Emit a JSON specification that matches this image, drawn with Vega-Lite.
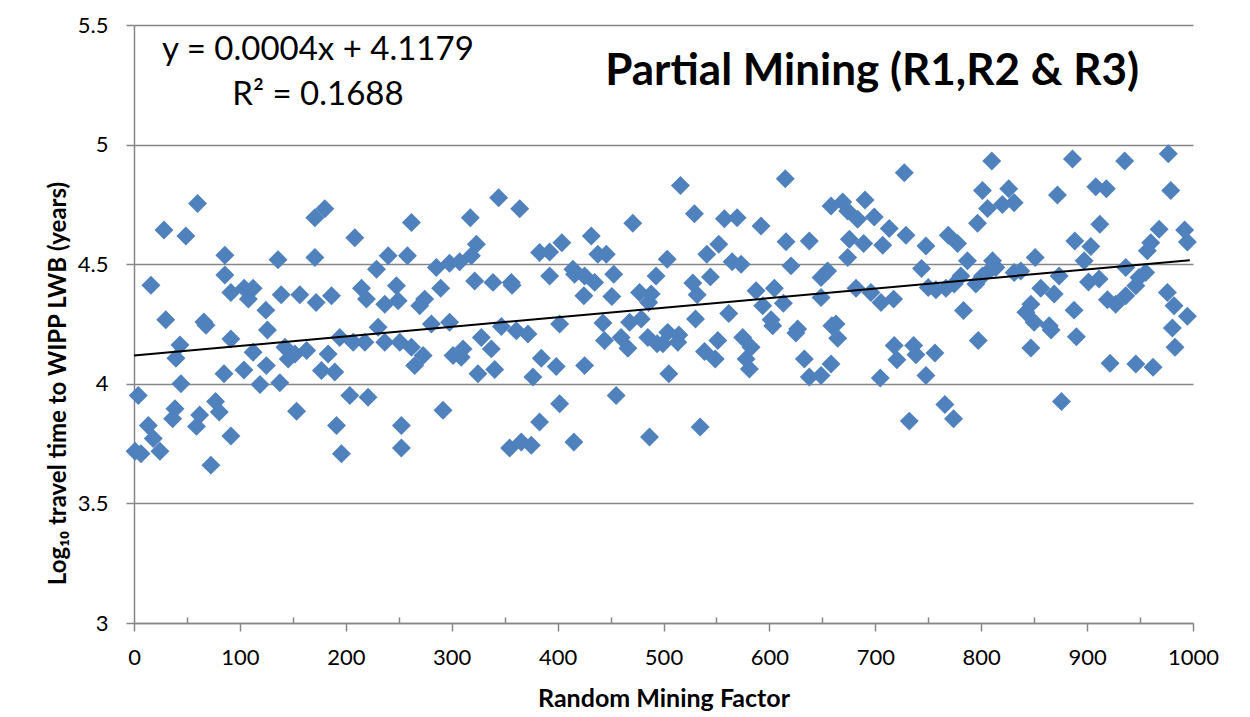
{
  "$schema": "https://vega.github.io/schema/vega-lite/v6.json",
  "width": 1059,
  "height": 598,
  "autosize": {"type": "none"},
  "padding": {"left": 134, "top": 25, "right": 57, "bottom": 94},
  "background": "white",
  "config": {"font": "Lato", "view": {"stroke": null}},
  "data": {"values": [
    {"factor":60,"log_time":4.754},{"factor":28.3,"log_time":4.643},{"factor":49,"log_time":4.618},{"factor":85.8,"log_time":4.537},{"factor":136,"log_time":4.519},{"factor":16,"log_time":4.412},{"factor":85.8,"log_time":4.455},{"factor":91.5,"log_time":4.382},{"factor":104,"log_time":4.399},{"factor":112.5,"log_time":4.399},{"factor":108,"log_time":4.354},{"factor":139,"log_time":4.372},{"factor":156.6,"log_time":4.372},{"factor":30,"log_time":4.268},{"factor":66,"log_time":4.258},{"factor":68,"log_time":4.245},{"factor":124.5,"log_time":4.308},{"factor":126,"log_time":4.225},{"factor":43.4,"log_time":4.162},{"factor":39.6,"log_time":4.107},{"factor":91.5,"log_time":4.187},{"factor":112.5,"log_time":4.132},{"factor":142.5,"log_time":4.153},{"factor":145.6,"log_time":4.104},{"factor":152,"log_time":4.125},{"factor":163,"log_time":4.139},{"factor":85,"log_time":4.042},{"factor":103.8,"log_time":4.058},{"factor":125,"log_time":4.076},{"factor":119,"log_time":3.997},{"factor":137.7,"log_time":4.004},{"factor":44.3,"log_time":4.0},{"factor":4,"log_time":3.951},{"factor":38.7,"log_time":3.896},{"factor":36.5,"log_time":3.854},{"factor":77,"log_time":3.926},{"factor":80.5,"log_time":3.882},{"factor":62,"log_time":3.87},{"factor":59,"log_time":3.822},{"factor":153.5,"log_time":3.885},{"factor":13.5,"log_time":3.826},{"factor":18.2,"log_time":3.771},{"factor":1,"log_time":3.718},{"factor":6.6,"log_time":3.708},{"factor":24.5,"log_time":3.718},{"factor":91.5,"log_time":3.782},{"factor":72.6,"log_time":3.66},
    {"factor":170.8,"log_time":4.694},{"factor":180.2,"log_time":4.732},{"factor":208.5,"log_time":4.611},{"factor":262,"log_time":4.674},{"factor":317.6,"log_time":4.694},{"factor":170.8,"log_time":4.528},{"factor":240,"log_time":4.535},{"factor":258.2,"log_time":4.535},{"factor":229,"log_time":4.479},{"factor":285.5,"log_time":4.486},{"factor":298,"log_time":4.504},{"factor":307.5,"log_time":4.51},{"factor":318.6,"log_time":4.535},{"factor":323.3,"log_time":4.583},{"factor":321.7,"log_time":4.43},{"factor":172,"log_time":4.34},{"factor":186.5,"log_time":4.368},{"factor":214.8,"log_time":4.399},{"factor":219.5,"log_time":4.354},{"factor":236.8,"log_time":4.333},{"factor":247.8,"log_time":4.41},{"factor":249.4,"log_time":4.347},{"factor":269.8,"log_time":4.326},{"factor":274.5,"log_time":4.354},{"factor":289.6,"log_time":4.399},{"factor":280.8,"log_time":4.25},{"factor":298,"log_time":4.257},{"factor":328,"log_time":4.194},{"factor":230.5,"log_time":4.236},{"factor":194.3,"log_time":4.194},{"factor":207,"log_time":4.174},{"factor":218,"log_time":4.174},{"factor":236.8,"log_time":4.174},{"factor":251,"log_time":4.174},{"factor":262,"log_time":4.153},{"factor":273,"log_time":4.118},{"factor":265,"log_time":4.076},{"factor":183.3,"log_time":4.125},{"factor":177,"log_time":4.056},{"factor":189.6,"log_time":4.049},{"factor":301.3,"log_time":4.118},{"factor":310.7,"log_time":4.146},{"factor":309,"log_time":4.111},{"factor":324.8,"log_time":4.042},{"factor":203.8,"log_time":3.951},{"factor":221,"log_time":3.944},{"factor":291.8,"log_time":3.889},{"factor":191.2,"log_time":3.826},{"factor":252.5,"log_time":3.826},{"factor":195.9,"log_time":3.708},{"factor":252.5,"log_time":3.732},
    {"factor":344.3,"log_time":4.778},{"factor":364.2,"log_time":4.732},{"factor":471,"log_time":4.671},{"factor":383,"log_time":4.549},{"factor":392.5,"log_time":4.551},{"factor":404,"log_time":4.59},{"factor":431.8,"log_time":4.618},{"factor":438,"log_time":4.542},{"factor":446,"log_time":4.542},{"factor":339,"log_time":4.424},{"factor":356.3,"log_time":4.424},{"factor":357,"log_time":4.412},{"factor":392.5,"log_time":4.451},{"factor":414.5,"log_time":4.479},{"factor":416,"log_time":4.458},{"factor":425.5,"log_time":4.451},{"factor":435,"log_time":4.424},{"factor":453,"log_time":4.458},{"factor":424.8,"log_time":4.368},{"factor":451.2,"log_time":4.365},{"factor":477.4,"log_time":4.382},{"factor":488.4,"log_time":4.375},{"factor":493,"log_time":4.451},{"factor":346.9,"log_time":4.24},{"factor":361,"log_time":4.222},{"factor":372,"log_time":4.208},{"factor":401.9,"log_time":4.25},{"factor":442.8,"log_time":4.254},{"factor":468,"log_time":4.257},{"factor":479,"log_time":4.271},{"factor":337.4,"log_time":4.146},{"factor":444.3,"log_time":4.181},{"factor":460,"log_time":4.194},{"factor":466.4,"log_time":4.149},{"factor":485.2,"log_time":4.194},{"factor":494,"log_time":4.167},{"factor":340.6,"log_time":4.06},{"factor":384.6,"log_time":4.107},{"factor":398.7,"log_time":4.072},{"factor":425.5,"log_time":4.076},{"factor":376.7,"log_time":4.028},{"factor":455.3,"log_time":3.951},{"factor":401.9,"log_time":3.917},{"factor":383,"log_time":3.84},{"factor":486.8,"log_time":3.778},{"factor":354.7,"log_time":3.732},{"factor":365.7,"log_time":3.757},{"factor":375.2,"log_time":3.743},{"factor":415.4,"log_time":3.757},
    {"factor":516,"log_time":4.829},{"factor":615,"log_time":4.857},{"factor":529.2,"log_time":4.711},{"factor":557.5,"log_time":4.69},{"factor":569.5,"log_time":4.694},{"factor":592.1,"log_time":4.66},{"factor":658.2,"log_time":4.743},{"factor":615.7,"log_time":4.594},{"factor":637.7,"log_time":4.597},{"factor":552.2,"log_time":4.583},{"factor":540.9,"log_time":4.542},{"factor":503.5,"log_time":4.521},{"factor":564.8,"log_time":4.51},{"factor":573.3,"log_time":4.5},{"factor":620.4,"log_time":4.493},{"factor":544.3,"log_time":4.447},{"factor":527.7,"log_time":4.421},{"factor":531.8,"log_time":4.372},{"factor":486,"log_time":4.34},{"factor":655,"log_time":4.472},{"factor":648.8,"log_time":4.444},{"factor":587.4,"log_time":4.389},{"factor":604.7,"log_time":4.399},{"factor":593.7,"log_time":4.326},{"factor":613.2,"log_time":4.337},{"factor":648.8,"log_time":4.361},{"factor":561.6,"log_time":4.294},{"factor":530.2,"log_time":4.271},{"factor":601.6,"log_time":4.268},{"factor":603.1,"log_time":4.243},{"factor":626.7,"log_time":4.229},{"factor":625,"log_time":4.212},{"factor":659,"log_time":4.243},{"factor":504,"log_time":4.215},{"factor":499.4,"log_time":4.167},{"factor":514.5,"log_time":4.204},{"factor":513.5,"log_time":4.174},{"factor":551.3,"log_time":4.181},{"factor":538.7,"log_time":4.135},{"factor":548.8,"log_time":4.104},{"factor":574.8,"log_time":4.194},{"factor":582.7,"log_time":4.153},{"factor":578,"log_time":4.104},{"factor":581.1,"log_time":4.062},{"factor":633,"log_time":4.104},{"factor":637.7,"log_time":4.028},{"factor":648.8,"log_time":4.035},{"factor":658.2,"log_time":4.083},{"factor":505,"log_time":4.042},{"factor":534.6,"log_time":3.819},
    {"factor":810,"log_time":4.931},{"factor":727.4,"log_time":4.882},{"factor":669.2,"log_time":4.76},{"factor":673.9,"log_time":4.722},{"factor":683.3,"log_time":4.688},{"factor":690.3,"log_time":4.768},{"factor":699,"log_time":4.697},{"factor":713.2,"log_time":4.649},{"factor":729,"log_time":4.621},{"factor":801.2,"log_time":4.808},{"factor":806,"log_time":4.733},{"factor":820,"log_time":4.75},{"factor":796.5,"log_time":4.671},{"factor":675.5,"log_time":4.604},{"factor":689,"log_time":4.587},{"factor":707,"log_time":4.579},{"factor":747.8,"log_time":4.576},{"factor":768.9,"log_time":4.621},{"factor":777.7,"log_time":4.587},{"factor":787,"log_time":4.514},{"factor":673.9,"log_time":4.528},{"factor":743.7,"log_time":4.482},{"factor":810.7,"log_time":4.514},{"factor":813.8,"log_time":4.486},{"factor":681.8,"log_time":4.399},{"factor":695.9,"log_time":4.382},{"factor":705.4,"log_time":4.34},{"factor":717.3,"log_time":4.354},{"factor":750,"log_time":4.403},{"factor":757.2,"log_time":4.393},{"factor":766.7,"log_time":4.399},{"factor":774.5,"log_time":4.417},{"factor":780.8,"log_time":4.451},{"factor":795,"log_time":4.417},{"factor":801.2,"log_time":4.451},{"factor":809.1,"log_time":4.479},{"factor":783.3,"log_time":4.306},{"factor":662.9,"log_time":4.25},{"factor":664.5,"log_time":4.19},{"factor":797.2,"log_time":4.181},{"factor":717.9,"log_time":4.16},{"factor":720.4,"log_time":4.101},{"factor":736.2,"log_time":4.16},{"factor":738.4,"log_time":4.121},{"factor":756.3,"log_time":4.129},{"factor":747.8,"log_time":4.035},{"factor":704.7,"log_time":4.024},{"factor":765.7,"log_time":3.913},{"factor":773.9,"log_time":3.854},{"factor":732.1,"log_time":3.844},
    {"factor":886.2,"log_time":4.94},{"factor":935.5,"log_time":4.931},{"factor":976.7,"log_time":4.962},{"factor":979,"log_time":4.808},{"factor":826,"log_time":4.815},{"factor":831.1,"log_time":4.757},{"factor":872,"log_time":4.789},{"factor":908.2,"log_time":4.824},{"factor":918.2,"log_time":4.815},{"factor":912,"log_time":4.667},{"factor":888.4,"log_time":4.597},{"factor":903.5,"log_time":4.574},{"factor":968,"log_time":4.646},{"factor":992.1,"log_time":4.643},{"factor":994.7,"log_time":4.593},{"factor":960.1,"log_time":4.59},{"factor":956.9,"log_time":4.556},{"factor":851,"log_time":4.528},{"factor":897.2,"log_time":4.514},{"factor":831.1,"log_time":4.465},{"factor":837.4,"log_time":4.472},{"factor":873.6,"log_time":4.451},{"factor":936.5,"log_time":4.486},{"factor":955.3,"log_time":4.465},{"factor":949,"log_time":4.444},{"factor":901.3,"log_time":4.426},{"factor":911.3,"log_time":4.438},{"factor":946,"log_time":4.41},{"factor":856.3,"log_time":4.399},{"factor":868.9,"log_time":4.375},{"factor":919.2,"log_time":4.351},{"factor":927,"log_time":4.333},{"factor":936.5,"log_time":4.368},{"factor":975.8,"log_time":4.382},{"factor":982.1,"log_time":4.326},{"factor":994.7,"log_time":4.282},{"factor":846.9,"log_time":4.333},{"factor":842.2,"log_time":4.299},{"factor":887.7,"log_time":4.308},{"factor":850,"log_time":4.257},{"factor":864.2,"log_time":4.243},{"factor":866,"log_time":4.225},{"factor":980.5,"log_time":4.233},{"factor":889.9,"log_time":4.197},{"factor":846.9,"log_time":4.15},{"factor":983,"log_time":4.153},{"factor":921.7,"log_time":4.086},{"factor":946,"log_time":4.083},{"factor":962.3,"log_time":4.069},{"factor":875.8,"log_time":3.926}
  ]},
  "layer": [
    {
      "mark": {"type": "point", "shape": "diamond", "filled": true, "size": 360, "color": "#4F81BD", "opacity": 1, "strokeWidth": 0},
      "encoding": {
        "x": {"field": "factor", "type": "quantitative",
          "scale": {"domain": [0, 1000], "nice": false, "zero": false},
          "axis": {"orient": "bottom", "values": [0,50,100,150,200,250,300,350,400,450,500,550,600,650,700,750,800,850,900,950,1000],
            "labelExpr": "datum.value % 100 === 0 ? datum.label : ''", "format": "d", "grid": false,
            "domainColor": "#868686", "domainWidth": 1.5, "tickColor": "#868686", "tickWidth": 1.5,
            "tickSize": {"condition": {"test": "datum.value % 100 === 0", "value": 8}, "value": -6},
            "labelFontSize": 22, "labelPadding": 16, "labelColor": "black", "labelFlush": false, "labelOverlap": false,
            "title": "Random Mining Factor", "titleFontSize": 25, "titleFontWeight": "bold", "titleColor": "black", "titlePadding": 18}},
        "y": {"field": "log_time", "type": "quantitative",
          "scale": {"domain": [3, 5.5], "nice": false, "zero": false},
          "axis": {"orient": "left", "values": [3, 3.5, 4, 4.5, 5, 5.5], "format": "~g", "grid": true, "gridColor": "#868686", "gridWidth": 1.3,
            "domainColor": "#868686", "domainWidth": 1.5, "tickColor": "#868686", "tickWidth": 1.5, "tickSize": 8,
            "labelFontSize": 22, "labelPadding": 18, "labelColor": "black",
            "title": "Log₁₀ travel time to WIPP LWB (years)", "titleFontSize": 24, "titleFontWeight": "bold", "titleColor": "black",
            "titlePadding": 7, "titleAnchor": "middle", "titleY": 358}}
      }
    },
    {
      "data": {"values": [{"factor": 0, "log_time": 4.1179}, {"factor": 997, "log_time": 4.517}]},
      "mark": {"type": "line", "color": "black", "strokeWidth": 2},
      "encoding": {
        "x": {"field": "factor", "type": "quantitative"},
        "y": {"field": "log_time", "type": "quantitative"}
      }
    },
    {
      "data": {"values": [{}]},
      "mark": {"type": "text", "fontSize": 33, "align": "center", "baseline": "middle", "color": "black"},
      "encoding": {
        "x": {"datum": 173.7, "type": "quantitative"},
        "y": {"datum": 5.395, "type": "quantitative"},
        "text": {"value": "y = 0.0004x + 4.1179"}
      }
    },
    {
      "data": {"values": [{}]},
      "mark": {"type": "text", "fontSize": 33, "align": "center", "baseline": "middle", "color": "black"},
      "encoding": {
        "x": {"datum": 173.7, "type": "quantitative"},
        "y": {"datum": 5.207, "type": "quantitative"},
        "text": {"value": "R² = 0.1688"}
      }
    },
    {
      "data": {"values": [{}]},
      "mark": {"type": "text", "fontSize": 44, "fontWeight": "bold", "align": "center", "baseline": "middle", "color": "black"},
      "encoding": {
        "x": {"datum": 697, "type": "quantitative"},
        "y": {"datum": 5.304, "type": "quantitative"},
        "text": {"value": "Partial Mining (R1,R2 & R3)"}
      }
    }
  ]
}
